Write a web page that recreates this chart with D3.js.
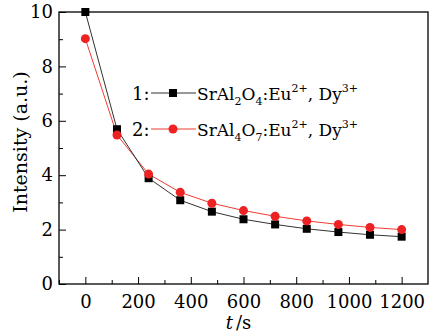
<!DOCTYPE html>
<meta charset='utf-8'>
<style>
    body { margin: 0; background: #fff; }
    text { fill: #000; }
    .axis path, .axis line { stroke: #000; }
</style>
<svg width="434" height="334"></svg>
<script src="https://d3js.org/d3.v7.min.js"></script>
<script>

var times = [0, 120, 240, 360, 480, 600, 720, 840, 960, 1080, 1200];
var sral2o4 = [10, 5.69, 3.89, 3.08, 2.66, 2.38, 2.19, 2.03, 1.91, 1.81, 1.74];
var sral4o7 = [9.02, 5.48, 4.04, 3.37, 2.97, 2.70, 2.49, 2.32, 2.19, 2.08, 2.0];
var xTicks = [0, 200, 400, 600, 800, 1000, 1200];
var yTicks = [0, 2, 4, 6, 8, 10];

var serif = 'DejaVu Serif';
var svg = d3.select('svg'),
    pL = 59, pT = 12, pR = 428, pB = 284;

var x = d3.scaleLinear().domain([-100, 1300]).range([pL, pR]);
var y = d3.scaleLinear().domain([0, 10]).range([pB, pT]);

// minor ticks
svg.append('g')
    .attr('transform', 'translate(0,' + pB + ')')
    .attr('class', 'axis')
    .call(d3.axisBottom(x).tickValues(d3.range(-100, 1300, 200)).tickSize(-4).tickFormat(''))
    .call(function(g) { g.select('.domain').remove(); });
svg.append('g')
    .attr('transform', 'translate(' + pL + ',0)')
    .attr('class', 'axis')
    .call(d3.axisLeft(y).tickValues(d3.range(1, 10, 2)).tickSize(-4).tickFormat(''))
    .call(function(g) { g.select('.domain').remove(); });

// major ticks
svg.append('g')
    .attr('transform', 'translate(0,' + pB + ')')
    .attr('class', 'axis')
    .call(d3.axisBottom(x).tickValues(xTicks).tickFormat(d3.format('d')).tickSize(-7).tickPadding(11))
    .call(function(g) {
        g.select('.domain').remove();
        g.selectAll('text').attr('font-size', 18).attr('font-family', serif);
    });
svg.append('g')
    .attr('transform', 'translate(' + pL + ',0)')
    .attr('class', 'axis')
    .call(d3.axisLeft(y).tickValues(yTicks).tickFormat(d3.format('d')).tickSize(-7).tickPadding(6))
    .call(function(g) {
        g.select('.domain').remove();
        g.selectAll('text').attr('font-size', 18).attr('font-family', serif);
    });

svg.append('rect')
    .attr('x', pL).attr('y', pT)
    .attr('width', pR - pL).attr('height', pB - pT)
    .attr('fill', 'none').attr('stroke', '#000').attr('stroke-width', 1.3);

var line = d3.line()
    .x(function(d, i) { return x(times[i]); })
    .y(function(d) { return y(d); });

svg.append('path').datum(sral4o7)
    .attr('d', line).attr('fill', 'none').attr('stroke', '#f03c32').attr('stroke-width', 1);
svg.append('path').datum(sral2o4)
    .attr('d', line).attr('fill', 'none').attr('stroke', '#333').attr('stroke-width', 1);

svg.selectAll('.sq').data(sral2o4).enter().append('rect')
    .attr('x', function(d, i) { return x(times[i]) - 4; })
    .attr('y', function(d) { return y(d) - 4; })
    .attr('width', 8).attr('height', 8).attr('fill', '#000');

svg.selectAll('.ci').data(sral4o7).enter().append('circle')
    .attr('cx', function(d, i) { return x(times[i]); })
    .attr('cy', function(d) { return y(d); })
    .attr('r', 4.5).attr('fill', '#ee2222');

// legend
var legend = [
    { label: '1:', color: '#333', mark: 'sq', sub1: '2', sub2: '4' },
    { label: '2:', color: '#f03c32', mark: 'ci', sub1: '4', sub2: '7' }
];
legend.forEach(function(l, i) {
    var ly = 93 + i * 36;
    svg.append('text').attr('x', 132).attr('y', ly + 7).attr('font-size', 18)
        .attr('font-family', serif).text(l.label);
    svg.append('line').attr('x1', 151).attr('x2', 196).attr('y1', ly).attr('y2', ly)
        .attr('stroke', l.color).attr('stroke-width', 1);
    if (l.mark === 'sq') {
        svg.append('rect').attr('x', 169).attr('y', ly - 4).attr('width', 8).attr('height', 8).attr('fill', '#000');
    } else {
        svg.append('circle').attr('cx', 173).attr('cy', ly).attr('r', 4.5).attr('fill', '#ee2222');
    }
    var t = svg.append('text').attr('x', 197).attr('y', ly + 7).attr('font-size', 17)
        .attr('font-family', serif);
    t.append('tspan').text('SrAl');
    t.append('tspan').attr('font-size', 11).attr('dy', 5).text(l.sub1);
    t.append('tspan').attr('dy', -5).text('O');
    t.append('tspan').attr('font-size', 11).attr('dy', 5).text(l.sub2);
    t.append('tspan').attr('dy', -5).text(':Eu');
    t.append('tspan').attr('font-size', 11).attr('dy', -8).text('2+');
    t.append('tspan').attr('dy', 8).text(', Dy');
    t.append('tspan').attr('font-size', 11).attr('dy', -8).text('3+');
});

// axis titles
svg.append('text')
    .attr('transform', 'translate(27,142) rotate(-90)')
    .attr('text-anchor', 'middle').attr('font-size', 19).attr('font-family', serif)
    .text('Intensity (a.u.)');
svg.append('text').attr('x', 233).attr('y', 329)
    .attr('text-anchor', 'end').attr('font-size', 18).attr('font-family', serif)
    .attr('font-style', 'italic').text('t');
svg.append('text').attr('x', 236).attr('y', 329)
    .attr('font-size', 18).attr('font-family', serif).text('/s');

</script>
